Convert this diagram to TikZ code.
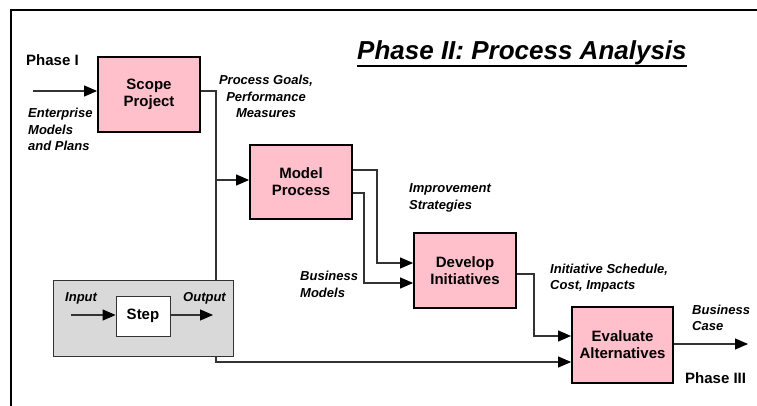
\documentclass[tikz,border=0pt]{standalone}
\usepackage{fontspec}
\setmainfont{Liberation Sans}
\usetikzlibrary{arrows.meta,calc}
\pgfdeclarelayer{bg}
\pgfsetlayers{bg,main}
\definecolor{boxpink}{HTML}{FFC0CB}
\definecolor{legendgray}{HTML}{D9D9D9}
\definecolor{linegray}{HTML}{333333}
\begin{document}
\begin{tikzpicture}[x=1pt,y=-1pt,
  proc/.style={draw=black,line width=1.8pt,fill=boxpink,align=center,
    font=\fontsize{15}{17}\selectfont\bfseries,inner sep=0pt},
  flow/.style={draw=linegray,line width=1.1pt,-{Triangle[length=13pt,width=11pt,color=black]}},
  lbl/.style={font=\fontsize{13}{16.5}\selectfont\bfseries\itshape,inner sep=0pt,align=left},
  phaselbl/.style={font=\fontsize{15}{17}\selectfont\bfseries,inner sep=0pt,anchor=base west},
]
\useasboundingbox (0,0) rectangle (757,406);

% frame
\draw[line width=2pt] (757,10) -- (11,10) -- (11,406);

% title
\node[font=\fontsize{26}{30}\selectfont\bfseries\itshape,anchor=base west,inner sep=0pt] (title) at (357,60) {Phase II: Process Analysis};
\draw[line width=2pt] ([yshift=-6pt]title.base west) -- ([yshift=-6pt]title.base east);

% process boxes
\node[proc,minimum width=102pt,minimum height=75pt] (scope) at (149,94.5) {Scope\\Project};
\node[proc,minimum width=102pt,minimum height=74pt] (model) at (301,182) {Model\\Process};
\node[proc,minimum width=102pt,minimum height=75pt] (develop) at (465,270.5) {Develop\\Initiatives};
\node[proc,minimum width=101pt,minimum height=76pt] (evaluate) at (622.5,345) {Evaluate\\Alternatives};

% legend
\node[draw=linegray,line width=0.8pt,fill=legendgray,minimum width=180pt,minimum height=76pt,inner sep=0pt] (legend) at (143,318) {};
\node[draw=linegray,line width=0.8pt,fill=white,minimum width=54pt,minimum height=40pt,inner sep=0pt,
  font=\fontsize{15}{17}\selectfont\bfseries] (stepbox) at (143,316) {Step};
\coordinate (lin) at (71,315);
\coordinate (lout) at (213,315);
\draw[flow] (lin) -- (lin -| stepbox.west);
\draw[flow] (stepbox.east |- lout) -- (lout);
\node[lbl,anchor=west] (inputlbl) at (65,298) {Input};
\node[lbl,anchor=west] (outputlbl) at (183,298) {Output};

% connector coordinates
\coordinate (enter) at (33,91);
\coordinate (sj1) at (216,91);
\coordinate (sj2) at (216,180);
\coordinate (sj3) at (216,362);
\coordinate (m1) at (377,170);
\coordinate (m1b) at (377,263);
\coordinate (m2) at (364,193);
\coordinate (m2b) at (364,283);
\coordinate (d1) at (534,274);
\coordinate (d1b) at (534,336);
\coordinate (e1) at (748,344);

\begin{pgfonlayer}{bg}
\draw[flow] (enter) -- (enter -| scope.west);
\draw[flow] (scope.east |- sj1) -- (sj1) -- (sj3) -- (sj3 -| evaluate.west);
\draw[flow] (sj2) -- (sj2 -| model.west);
\draw[flow] (model.east |- m1) -- (m1) -- (m1b) -- (m1b -| develop.west);
\draw[flow] (model.east |- m2) -- (m2) -- (m2b) -- (m2b -| develop.west);
\draw[flow] (develop.east |- d1) -- (d1) -- (d1b) -- (d1b -| evaluate.west);
\draw[flow] (evaluate.east |- e1) -- (e1);
\end{pgfonlayer}

% labels
\node[phaselbl] (phase1) at (26,65.5) {Phase I};
\node[phaselbl] (phase3) at (685,383.5) {Phase III};
\node[lbl,anchor=west] (entlbl) at (28,129.5) {Enterprise\\Models\\and Plans};
\node[lbl,align=center] (goalslbl) at (266,96.5) {Process Goals,\\Performance\\Measures};
\node[lbl,anchor=west] (imprlbl) at (409,198) {Improvement\\Strategies};
\node[lbl,anchor=west] (bmlbl) at (300,284.5) {Business\\Models};
\node[lbl,anchor=west] (initlbl) at (550,278) {Initiative Schedule,\\Cost, Impacts};
\node[lbl,anchor=west] (caselbl) at (692,318) {Business\\Case};
\end{tikzpicture}
\end{document}
